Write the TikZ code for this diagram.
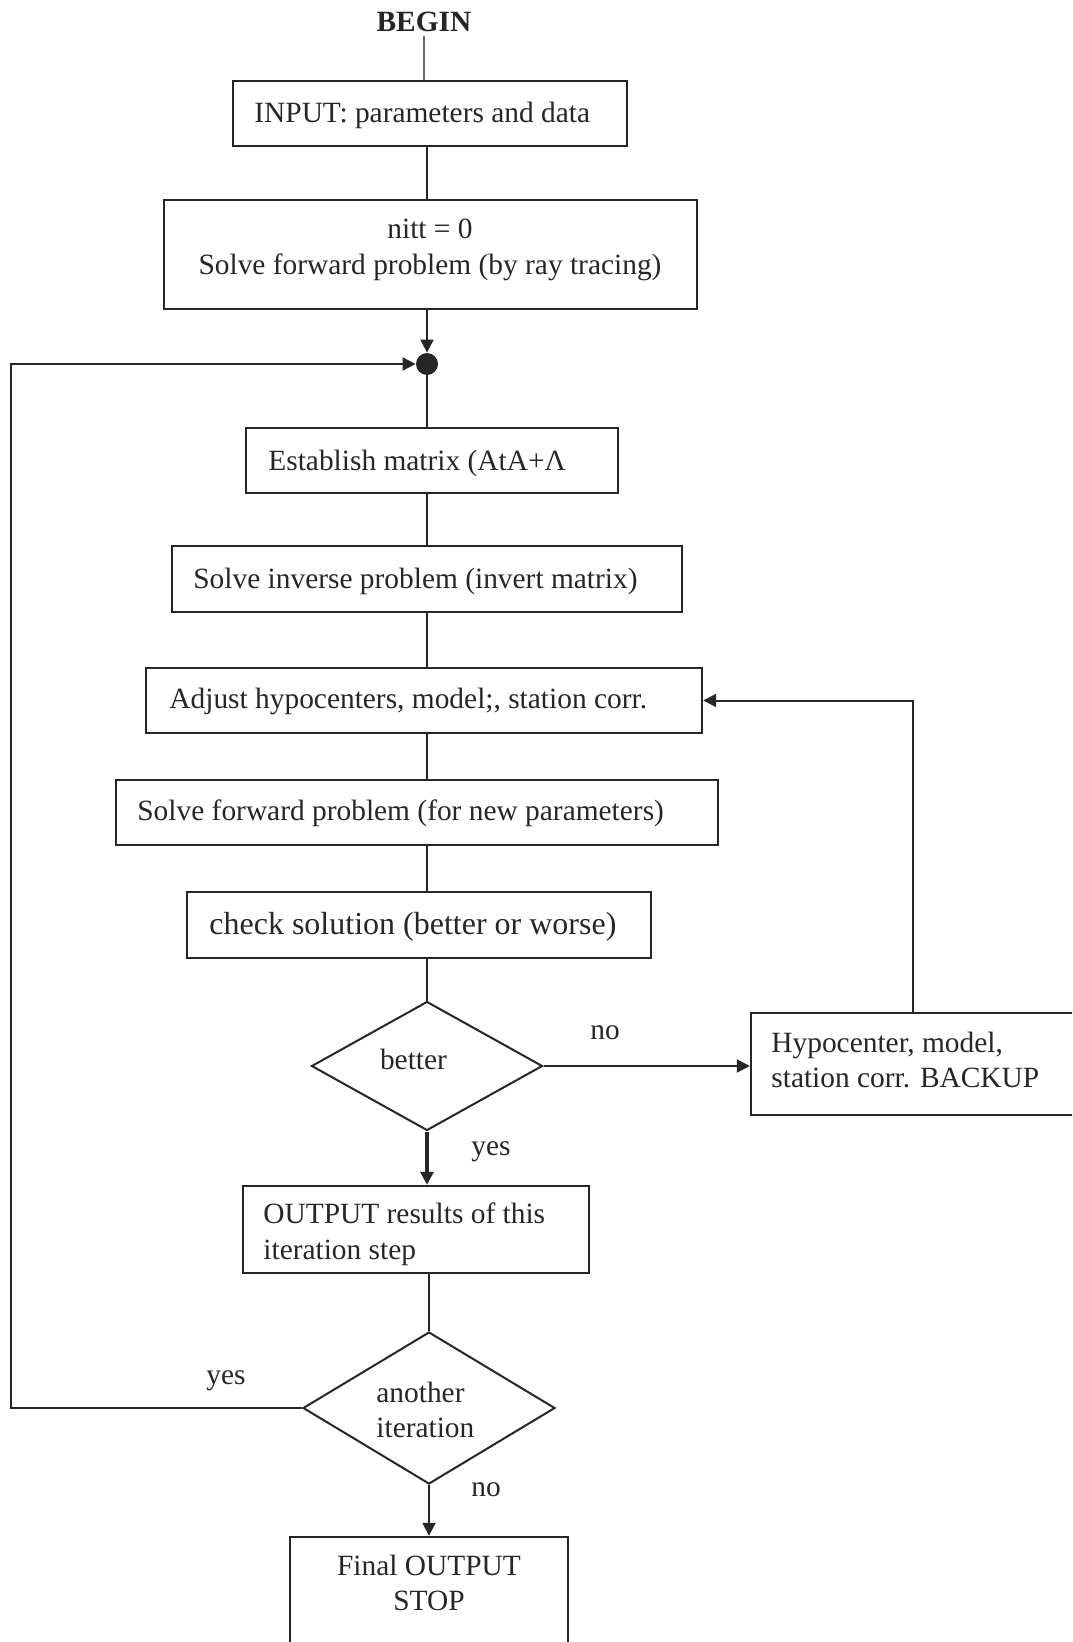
\documentclass[tikz,border=0pt]{standalone}
\usepackage{fontspec}
\setmainfont{Liberation Serif}
\usetikzlibrary{arrows.meta,shapes.geometric}
\definecolor{ink}{HTML}{262626}
\begin{document}
\begin{tikzpicture}[x=0.5pt,y=-0.5pt,
  every node/.style={text=ink},
  box/.style={draw=ink, line width=1.2pt, rectangle, inner sep=0pt},
  dia/.style={draw=ink, line width=1pt, diamond, inner sep=0pt},
  txt/.style={font=\fontsize{14.7}{17.8}\selectfont, inner sep=0pt},
  line/.style={draw=ink, line width=1pt},
  arr/.style={line, -{Triangle[length=6.5pt,width=6.5pt]}}]
\useasboundingbox (0,0) rectangle (1072,1642);
\clip (0,0) rectangle (1072,1642);
% BEGIN
\node[txt, font=\fontsize{14.7}{17.8}\selectfont\bfseries] (beginT) at (424,22) {BEGIN};
\coordinate (bgl) at (424,36);
% boxes
\node[box, minimum width=197pt, minimum height=32.5pt] (inp) at (430,113.5) {};
\node[txt, anchor=west] (inpT) at (254,115) {INPUT: parameters and data};
\node[box, minimum width=266.5pt, minimum height=54.5pt] (nitt) at (430.5,254.5) {};
\node[txt, align=center] (nittT) at (430,250) {nitt = 0\\Solve forward problem (by ray tracing)};
\node[circle, fill=ink, inner sep=0pt, minimum size=11pt] (dot) at (427,364) {};
\node[box, minimum width=186pt, minimum height=32.5pt] (est) at (432,460.5) {};
\node[txt, anchor=west] (estT) at (268,463.5) {Establish matrix (AtA+Λ};
\node[box, minimum width=255pt, minimum height=33pt] (inv) at (427,579) {};
\node[txt, anchor=west] (invT) at (193,581) {Solve inverse problem (invert matrix)};
\node[box, minimum width=278pt, minimum height=32.5pt] (adj) at (424,700.5) {};
\node[txt, anchor=west] (adjT) at (169,701.5) {Adjust hypocenters, model;, station corr.};
\node[box, minimum width=301pt, minimum height=32.5pt] (fwd) at (417,812.5) {};
\node[txt, anchor=west] (fwdT) at (137,813.5) {Solve forward problem (for new parameters)};
\node[box, minimum width=232pt, minimum height=33pt] (chk) at (419,925) {};
\node[txt, anchor=west, font=\fontsize{16}{19}\selectfont] (chkT) at (209,927) {check solution (better or worse)};
\node[dia, minimum width=115.5pt, minimum height=64.5pt] (better) at (427,1066) {};
\node[txt] (betterT) at (413.5,1059) {better};
\node[box, minimum width=174.5pt, minimum height=51pt] (bak) at (925.5,1064) {};
\node[txt, anchor=west, align=left] (bakT) at (771,1060) {Hypocenter, model,\\station corr. BACKUP};
\node[box, minimum width=173pt, minimum height=43.5pt] (out) at (416,1229.5) {};
\node[txt, anchor=west, align=left] (outT) at (263,1234) {OUTPUT results of this\\iteration step};
\node[dia, minimum width=126pt, minimum height=76pt] (another) at (429,1408) {};
\node[txt, anchor=west, align=left] (anotherT) at (376,1410) {another\\iteration};
\node[box, minimum width=139pt, minimum height=91.5pt] (fin) at (429,1628.5) {};
\node[txt, align=center] (finT) at (429,1583) {Final OUTPUT\\STOP};
% labels
\node[txt] (no1) at (605,1033) {no};
\node[txt] (yes1) at (491,1152) {yes};
\node[txt] (yes2) at (226,1381) {yes};
\node[txt] (no2) at (486,1490) {no};
% coordinates
\coordinate (bk) at (913,700.5);
\coordinate (lp1) at (11,1408);
\coordinate (lp2) at (11,364);
% connectors
\draw[draw=ink!70, line width=0.6pt] (bgl) -- (bgl |- inp.north);
\draw[line] (inp.south -| dot) -- (nitt.north -| dot);
\draw[arr] (nitt.south -| dot) -- (dot.north);
\draw[line] (dot.south) -- (est.north -| dot);
\draw[line] (est.south -| dot) -- (inv.north -| dot);
\draw[line] (inv.south -| dot) -- (adj.north -| dot);
\draw[line] (adj.south -| dot) -- (fwd.north -| dot);
\draw[line] (fwd.south -| dot) -- (chk.north -| dot);
\draw[line] (chk.south -| dot) -- (better.north);
\draw[arr, line width=1.6pt] (better.south) -- (better.south |- out.north);
\draw[arr] (better.east) -- (better.east -| bak.west);
\draw[arr] (bak.north -| bk) -- (bk) -- (adj.east);
\draw[line] (out.south -| another) -- (another.north);
\draw[arr] (another.south) -- (fin.north -| another);
\draw[arr] (another.west) -- (lp1) -- (lp2) -- (dot.west);
\end{tikzpicture}
\end{document}
